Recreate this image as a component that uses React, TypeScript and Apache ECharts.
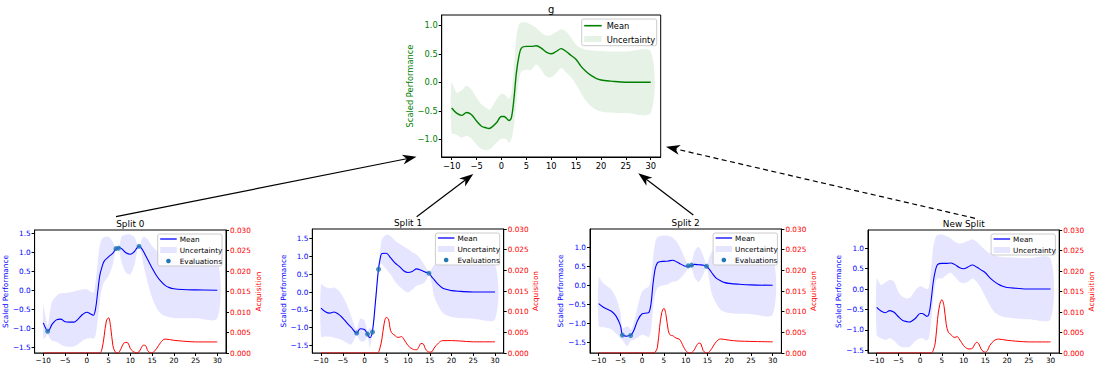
import React, { useEffect, useRef } from "react";
import * as echarts from "echarts";

// ---------- tick labels ----------
const xTicks = [-10, -5, 0, 5, 10, 15, 20, 25, 30];
const gYTicks = [-1, -0.5, 0, 0.5, 1];
const s01YTicks = [-1.5, -1, -0.5, 0, 0.5, 1, 1.5];
const s2nYTicks = [-1.5, -1, -0.5, 0, 0.5, 1];
const acqTicks = [0, 0.005, 0.01, 0.015, 0.02, 0.025, 0.03];

// ---------- g (parent) ----------
const gX = [-10, -9, -8, -7, -6, -5, -4, -3, -2.5, -2, -1, 0, 0.5, 1, 1.5, 2, 2.5, 3, 3.5, 4, 5, 6, 7, 8, 9, 10, 11, 12, 13, 14, 15, 16, 17, 18, 19, 20, 22, 25, 30];
const gMean = [-0.45, -0.54, -0.58, -0.53, -0.57, -0.68, -0.77, -0.8, -0.81, -0.79, -0.71, -0.6, -0.6, -0.63, -0.67, -0.62, -0.3, 0.16, 0.45, 0.6, 0.63, 0.63, 0.64, 0.6, 0.53, 0.5, 0.54, 0.59, 0.54, 0.47, 0.4, 0.28, 0.19, 0.12, 0.07, 0.04, 0.02, 0.0, 0.0];
const gUpper = [0.0, -0.18, -0.14, -0.06, -0.13, -0.27, -0.39, -0.45, -0.48, -0.45, -0.3, -0.2, -0.21, -0.24, -0.29, -0.19, 0.28, 0.8, 1.01, 1.05, 1.05, 1.01, 0.95, 0.87, 0.82, 0.83, 0.88, 0.93, 0.89, 0.78, 0.66, 0.6, 0.57, 0.56, 0.55, 0.55, 0.54, 0.54, 0.54];
const gLower = [-0.89, -0.92, -0.97, -0.94, -0.99, -1.09, -1.17, -1.19, -1.18, -1.15, -1.06, -0.99, -0.99, -1.0, -1.06, -1.0, -0.77, -0.36, 0.02, 0.19, 0.22, 0.22, 0.31, 0.22, 0.1, 0.09, 0.16, 0.25, 0.17, 0.09, -0.04, -0.19, -0.33, -0.42, -0.48, -0.51, -0.53, -0.54, -0.54];

// ---------- acquisition sample positions (shared) ----------
const acqX = [-10, 0, 2.5, 3, 3.5, 4, 4.5, 5, 5.5, 6, 6.5, 7, 7.5, 8, 8.5, 9, 9.5, 10, 10.5, 11, 11.5, 12, 12.5, 13, 13.5, 14, 14.5, 15, 15.5, 16, 17, 18, 20, 22, 25, 30];

// ---------- Split 0 ----------
const s0X = [-10, -9.5, -9, -8.5, -8, -7, -6, -5, -4, -3, -2, -1, 0, 1, 1.5, 2, 2.5, 3, 3.5, 4, 5, 6, 6.5, 7, 7.5, 8, 9, 10, 11, 11.5, 12, 12.5, 13, 14, 15, 16, 17, 18, 19, 20, 22, 25, 30];
const s0Mean = [-0.86, -0.99, -1.08, -1.02, -0.9, -0.78, -0.76, -0.83, -0.84, -0.84, -0.76, -0.64, -0.58, -0.63, -0.66, -0.5, -0.05, 0.4, 0.62, 0.77, 0.88, 0.98, 1.07, 1.11, 1.12, 1.1, 0.99, 0.95, 1.03, 1.11, 1.16, 1.12, 1.03, 0.81, 0.59, 0.39, 0.24, 0.13, 0.07, 0.04, 0.02, 0.01, 0.0];
const s0Upper = [-0.4, -0.68, -0.92, -0.59, -0.3, -0.15, -0.08, -0.07, -0.06, -0.03, 0.0, 0.02, 0.03, -0.04, -0.07, 0.2, 0.75, 1.2, 1.36, 1.4, 1.41, 1.27, 1.16, 1.14, 1.2, 1.41, 1.47, 1.47, 1.39, 1.24, 1.18, 1.28, 1.41, 1.34, 1.17, 1.05, 0.92, 0.84, 0.8, 0.78, 0.77, 0.76, 0.76];
const s0Lower = [-1.28, -1.24, -1.16, -1.27, -1.33, -1.36, -1.43, -1.48, -1.49, -1.48, -1.42, -1.33, -1.28, -1.26, -1.28, -1.2, -0.8, -0.3, 0.05, 0.22, 0.38, 0.68, 0.98, 1.07, 1.02, 0.73, 0.46, 0.42, 0.68, 0.98, 1.13, 0.99, 0.68, 0.2, -0.2, -0.46, -0.61, -0.68, -0.71, -0.73, -0.74, -0.74, -0.74];
const s0EvalX = [-9, 6.7, 7.3, 12.0];
const s0EvalY = [-1.08, 1.1, 1.11, 1.16];
const s0Acq = [0, 0, 0, 0, 0.001, 0.0042, 0.0078, 0.0086, 0.0062, 0.0018, 0.0003, 0, 0.0003, 0.0014, 0.0024, 0.0026, 0.0024, 0.0011, 0.0005, 0.0002, 0, 0.0003, 0.0012, 0.0019, 0.0018, 0.0006, 0.0001, 0, 0.0004, 0.001, 0.0026, 0.0034, 0.0031, 0.0029, 0.0027, 0.0027];

// ---------- Split 1 ----------
const s1X = [-10, -9, -8, -7, -6, -5, -4, -3, -1.8, -1, 0, 0.7, 1.2, 1.8, 2.5, 3.2, 3.7, 4, 5, 6, 7, 8, 9, 10, 11, 12, 13, 14, 14.8, 15.5, 16, 17, 18, 19, 20, 22, 25, 30];
const s1Mean = [-0.45, -0.55, -0.59, -0.56, -0.62, -0.73, -0.87, -1.0, -1.15, -1.03, -1.05, -1.18, -1.28, -1.12, -0.3, 0.63, 1.0, 1.08, 1.09, 0.96, 0.82, 0.72, 0.6, 0.55, 0.58, 0.65, 0.61, 0.56, 0.53, 0.42, 0.35, 0.21, 0.11, 0.07, 0.04, 0.02, 0.0, 0.0];
const s1Upper = [0.22, 0.14, 0.11, 0.13, 0.05, -0.12, -0.36, -0.7, -1.05, -0.75, -0.8, -1.1, -1.0, -1.06, -0.1, 0.7, 1.25, 1.48, 1.61, 1.57, 1.45, 1.36, 1.28, 1.21, 1.12, 1.05, 0.91, 0.72, 0.56, 0.67, 0.77, 0.82, 0.8, 0.78, 0.77, 0.76, 0.76, 0.76];
const s1Lower = [-1.25, -1.25, -1.25, -1.28, -1.31, -1.35, -1.43, -1.47, -1.22, -1.37, -1.38, -1.25, -1.55, -1.17, -0.5, 0.57, 0.78, 0.79, 0.64, 0.49, 0.3, 0.16, 0.05, -0.01, 0.07, 0.18, 0.21, 0.3, 0.47, 0.21, -0.12, -0.4, -0.59, -0.66, -0.7, -0.73, -0.75, -0.76];
const s1EvalX = [-1.8, 0.7, 1.85, 3.23, 14.8];
const s1EvalY = [-1.15, -1.18, -1.12, 0.64, 0.53];
const s1Acq = [0, 0, 0, 0, 0.001, 0.0034, 0.007, 0.0086, 0.0082, 0.0054, 0.0046, 0.0043, 0.0038, 0.0038, 0.004, 0.0034, 0.0026, 0.0018, 0.0013, 0.001, 0.0008, 0.0008, 0.0015, 0.0023, 0.0022, 0.001, 0.0004, 0.0002, 0.0003, 0.0012, 0.0024, 0.003, 0.003, 0.0029, 0.0027, 0.0027];

// ---------- Split 2 ----------
const s2X = [-10, -9, -8, -7, -6, -5, -4.6, -4, -3.5, -3, -2.6, -2, -1, 0, 1, 1.5, 2, 2.5, 3, 3.5, 4, 5, 6, 7, 8, 9, 10, 10.6, 11.3, 12, 13, 14, 14.8, 15.5, 16, 17, 18, 19, 20, 22, 25, 30];
const s2Mean = [-0.47, -0.56, -0.62, -0.68, -0.8, -1.05, -1.28, -1.32, -1.33, -1.31, -1.3, -1.2, -0.9, -0.74, -0.72, -0.71, -0.5, 0.06, 0.45, 0.6, 0.63, 0.64, 0.65, 0.67, 0.62, 0.56, 0.51, 0.51, 0.53, 0.56, 0.55, 0.54, 0.51, 0.42, 0.34, 0.2, 0.13, 0.08, 0.06, 0.04, 0.02, 0.01];
const s2Upper = [0.22, 0.07, -0.02, -0.12, -0.32, -0.7, -1.12, -1.1, -1.07, -1.1, -1.16, -1.0, -0.52, -0.15, -0.06, -0.02, 0.15, 0.75, 1.15, 1.28, 1.3, 1.32, 1.31, 1.26, 1.15, 0.93, 0.67, 0.56, 0.58, 0.89, 1.02, 0.8, 0.55, 0.76, 0.89, 0.9, 0.86, 0.82, 0.8, 0.78, 0.77, 0.76];
const s2Lower = [-1.07, -1.09, -1.11, -1.15, -1.26, -1.38, -1.42, -1.52, -1.59, -1.52, -1.44, -1.42, -1.36, -1.29, -1.33, -1.36, -1.2, -0.6, -0.22, -0.07, -0.02, 0.01, 0.04, 0.1, 0.12, 0.22, 0.36, 0.46, 0.48, 0.23, 0.1, 0.28, 0.46, 0.08, -0.21, -0.47, -0.63, -0.69, -0.72, -0.74, -0.75, -0.76];
const s2EvalX = [-4.57, -2.66, 10.57, 11.34, 14.78];
const s2EvalY = [-1.3, -1.31, 0.52, 0.54, 0.51];
const s2Acq = [0, 0, 0, 0.0002, 0.0014, 0.0062, 0.0098, 0.0108, 0.009, 0.0054, 0.0043, 0.0042, 0.0038, 0.0035, 0.0034, 0.0026, 0.0015, 0.0006, 0.0001, 0, 0.0002, 0.0008, 0.0018, 0.0024, 0.0022, 0.0006, 0.0001, 0, 0.0004, 0.0011, 0.0027, 0.0034, 0.0031, 0.0029, 0.0028, 0.0027];

// ---------- New Split (same mean as g, wider band) ----------
const nsX = gX;
const nsMean = gMean;
const nsUpper = [0.26, 0.1, 0.16, 0.22, 0.18, -0.07, -0.19, -0.23, -0.22, -0.17, -0.01, 0.07, 0.06, 0.02, 0.0, 0.04, 0.47, 1.04, 1.25, 1.33, 1.34, 1.3, 1.25, 1.16, 1.12, 1.14, 1.18, 1.22, 1.16, 1.06, 0.96, 0.88, 0.84, 0.8, 0.79, 0.78, 0.77, 0.76, 0.75];
const nsLower = [-1.13, -1.21, -1.25, -1.21, -1.27, -1.38, -1.43, -1.43, -1.42, -1.38, -1.27, -1.21, -1.21, -1.24, -1.27, -1.21, -0.84, -0.27, 0.12, 0.26, 0.26, 0.34, 0.4, 0.3, 0.18, 0.14, 0.18, 0.26, 0.18, 0.02, -0.19, -0.39, -0.56, -0.64, -0.68, -0.7, -0.72, -0.74, -0.74];
const nsAcq = [0, 0, 0, 0.0006, 0.0026, 0.0082, 0.0118, 0.013, 0.0114, 0.007, 0.005, 0.0046, 0.004, 0.0038, 0.004, 0.0034, 0.0026, 0.0018, 0.0013, 0.001, 0.001, 0.0011, 0.002, 0.0026, 0.0022, 0.001, 0.0004, 0.0002, 0.0006, 0.0018, 0.003, 0.0034, 0.0031, 0.0029, 0.0027, 0.0027];

// ---------- layout ----------
const FONT = "DejaVu Sans";
const SMOOTH = 0.35;

type Panel = {
  title: string; x: number[]; mean: number[]; upper: number[]; lower: number[];
  acq: number[] | null; evalX: number[] | null; evalY: number[] | null;
  left: number; top: number; width: number; height: number;
  yMin: number; yMax: number; yTicks: number[];
  color: string; fs: number; titleFs: number; lw: number; big: boolean;
};

const panels: Panel[] = [
  { title: "g", x: gX, mean: gMean, upper: gUpper, lower: gLower, acq: null, evalX: null, evalY: null,
    left: 441.7, top: 15, width: 219, height: 142, yMin: -1.31, yMax: 1.18, yTicks: gYTicks,
    color: "#008000", fs: 8.3, titleFs: 10, lw: 1.4, big: true },
  { title: "Split 0", x: s0X, mean: s0Mean, upper: s0Upper, lower: s0Lower, acq: s0Acq, evalX: s0EvalX, evalY: s0EvalY,
    left: 34.6, top: 230, width: 191.4, height: 123, yMin: -1.654, yMax: 1.59, yTicks: s01YTicks,
    color: "#0000ff", fs: 7.3, titleFs: 8.9, lw: 1.1, big: false },
  { title: "Split 1", x: s1X, mean: s1Mean, upper: s1Upper, lower: s1Lower, acq: s1Acq, evalX: s1EvalX, evalY: s1EvalY,
    left: 312.3, top: 229, width: 191.4, height: 124, yMin: -1.71, yMax: 1.77, yTicks: s01YTicks,
    color: "#0000ff", fs: 7.3, titleFs: 8.9, lw: 1.1, big: false },
  { title: "Split 2", x: s2X, mean: s2Mean, upper: s2Upper, lower: s2Lower, acq: s2Acq, evalX: s2EvalX, evalY: s2EvalY,
    left: 590, top: 229, width: 191.4, height: 124, yMin: -1.77, yMax: 1.49, yTicks: s2nYTicks,
    color: "#0000ff", fs: 7.3, titleFs: 8.9, lw: 1.1, big: false },
  { title: "New Split", x: nsX, mean: nsMean, upper: nsUpper, lower: nsLower, acq: nsAcq, evalX: null, evalY: null,
    left: 868, top: 230, width: 191.4, height: 123, yMin: -1.57, yMax: 1.45, yTicks: s2nYTicks,
    color: "#0000ff", fs: 7.3, titleFs: 8.9, lw: 1.1, big: false },
];

// arrows: [tailX, tailY, tipX, tipY, dashed]
const arrows: [number, number, number, number, boolean][] = [
  [116, 216.7, 416.5, 156.8, false],
  [416.7, 216.7, 473.3, 174, false],
  [693.3, 215, 638.3, 173.3, false],
  [975, 218.3, 666, 146.7, true],
];

const minus = (s: string) => s.replace("-", "\u2212");
const fmt0 = (v: number) => minus(String(Math.round(v)));
const fmt1 = (v: number) => minus(v.toFixed(1));
const fmt3 = (v: number) => v.toFixed(3);
const pairs = (xs: number[], ys: number[]) => xs.map((x, i) => [x, ys[i]]);
const rgba = (hex: string, a: number) => {
  const n = parseInt(hex.slice(1), 16);
  return `rgba(${(n >> 16) & 255},${(n >> 8) & 255},${n & 255},${a})`;
};

function textEl(x: number, y: number, text: string, fs: number, fill: string, align: string) {
  return {
    type: "text", x, y, z: 20,
    style: {
      text, fill, fontSize: fs, fontFamily: FONT,
      textAlign: align, align, textVerticalAlign: "middle", verticalAlign: "middle",
    },
  };
}

function legendEls(p: Panel) {
  const els: any[] = [];
  const items = p.evalX ? ["Mean", "Uncertainty", "Evaluations"] : ["Mean", "Uncertainty"];
  const w = p.big ? 75 : 64.3;
  const first = p.big ? 6.7 : 5;
  const row = p.big ? 13.3 : 11;
  const h = first * 2 + row * (items.length - 1);
  const x0 = p.left + p.width - 4 - w;
  const y0 = p.top + 4;
  const sx0 = x0 + 2.5;
  const sx1 = x0 + (p.big ? 20 : 19);
  const tx = x0 + (p.big ? 25 : 22);
  els.push({ type: "rect", z: 19, shape: { x: x0, y: y0, width: w, height: h, r: 2 },
    style: { fill: "rgba(255,255,255,0.8)", stroke: "#cccccc", lineWidth: 1 } });
  items.forEach((name, k) => {
    const cy = y0 + first + row * k;
    if (name === "Mean") {
      els.push({ type: "line", z: 20, shape: { x1: sx0, y1: cy, x2: sx1, y2: cy },
        style: { stroke: p.color, lineWidth: p.lw + 0.2 } });
    } else if (name === "Uncertainty") {
      els.push({ type: "rect", z: 20, shape: { x: sx0, y: cy - 3, width: sx1 - sx0, height: 6 },
        style: { fill: rgba(p.color, 0.1) } });
    } else {
      els.push({ type: "circle", z: 20, shape: { cx: (sx0 + sx1) / 2, cy, r: 2.3 },
        style: { fill: "#1f77b4" } });
    }
    els.push(textEl(tx, cy + 0.5, name, p.fs, "#000", "left"));
  });
  return els;
}

function arrowEls(a: [number, number, number, number, boolean]) {
  const [tx, ty, hx, hy, dashed] = a;
  const dx = hx - tx, dy = hy - ty;
  const len = Math.hypot(dx, dy);
  const ux = dx / len, uy = dy / len;
  const px = -uy, py = ux;
  const L = 14, W = 5, N = 10;
  const nx = hx - ux * N, ny = hy - uy * N;
  return [
    { type: "line", z: 20, shape: { x1: tx, y1: ty, x2: nx, y2: ny },
      style: { stroke: "#000", lineWidth: 1.2, lineDash: dashed ? [5, 3.5] : null } },
    { type: "polygon", z: 20,
      shape: { points: [[hx, hy], [hx - ux * L + px * W, hy - uy * L + py * W], [nx, ny], [hx - ux * L - px * W, hy - uy * L - py * W]] },
      style: { fill: "#000" } },
  ];
}

function buildOption() {
  const grid: any[] = [], xAxis: any[] = [], yAxis: any[] = [], series: any[] = [], graphic: any[] = [];
  panels.forEach((p, i) => {
    const bottom = !!p.acq;
    grid.push({ left: p.left, top: p.top, width: p.width, height: p.height, show: true,
      borderColor: "#000", borderWidth: 1, backgroundColor: "transparent" });
    xAxis.push({
      type: "value", gridIndex: i, min: -12, max: 32, z: 3,
      axisLine: { show: true, onZero: false, lineStyle: { color: "#000", width: 1, opacity: bottom ? 0.5 : 1 } },
      axisTick: { show: true, length: 3, customValues: xTicks, lineStyle: { color: "#000", width: 1 } },
      axisLabel: { customValues: xTicks, formatter: fmt0, color: "#000", fontSize: p.fs, fontFamily: FONT, margin: p.big ? 5 : 4 },
      splitLine: { show: false },
    });
    const leftIdx = yAxis.length;
    yAxis.push({
      type: "value", gridIndex: i, position: "left", min: p.yMin, max: p.yMax,
      axisLine: { show: true, onZero: false, lineStyle: { color: "#000", width: 1 } },
      axisTick: { show: true, length: 3, customValues: p.yTicks, lineStyle: { color: "#000", width: 1 } },
      axisLabel: { customValues: p.yTicks, formatter: fmt1, color: p.color, fontSize: p.fs, fontFamily: FONT, margin: 4 },
      splitLine: { show: false },
      name: "Scaled Performance", nameLocation: "middle", nameRotate: 90, nameGap: p.big ? 27 : 23.5,
      nameTextStyle: { color: p.color, fontSize: p.fs, fontFamily: FONT },
    });
    let rightIdx = -1;
    if (bottom) {
      rightIdx = yAxis.length;
      yAxis.push({
        type: "value", gridIndex: i, position: "right", min: 0, max: 0.03, interval: 0.005,
        axisLine: { show: true, onZero: false, lineStyle: { color: "#000", width: 1 } },
        axisTick: { show: true, length: 3, customValues: acqTicks, lineStyle: { color: "#000", width: 1 } },
        axisLabel: { customValues: acqTicks, formatter: fmt3, color: "#ff0000", fontSize: p.fs, fontFamily: FONT, margin: 4 },
        splitLine: { show: false },
        name: "Acquisition", nameLocation: "middle", nameRotate: 90, nameGap: 26,
        nameTextStyle: { color: "#ff0000", fontSize: p.fs, fontFamily: FONT },
      });
    }
    const fill = rgba(p.color, 0.1);
    series.push({
      type: "custom", name: "Uncertainty", xAxisIndex: i, yAxisIndex: leftIdx,
      data: p.x.map((x, k) => [x, p.lower[k], p.upper[k]]),
      encode: { x: 0, y: [1, 2] }, silent: true, z: 1,
      renderItem: (params: any, api: any) => {
        if (params.dataIndex !== 0) return null;
        const up = p.x.map((x, k) => api.coord([x, p.upper[k]]));
        const lo = p.x.map((x, k) => api.coord([x, p.lower[k]])).reverse();
        return { type: "polygon", shape: { points: up.concat(lo), smooth: 0.3 }, style: { fill, stroke: null } };
      },
    });
    series.push({
      type: "line", name: "Mean", xAxisIndex: i, yAxisIndex: leftIdx,
      data: pairs(p.x, p.mean), symbol: "none", smooth: SMOOTH,
      lineStyle: { color: p.color, width: p.lw }, z: 2,
    });
    if (p.evalX && p.evalY) {
      series.push({
        type: "scatter", name: "Evaluations", xAxisIndex: i, yAxisIndex: leftIdx,
        data: pairs(p.evalX, p.evalY), symbolSize: 5, itemStyle: { color: "#1f77b4" }, z: 4,
      });
    }
    if (p.acq) {
      series.push({
        type: "line", name: "Acquisition", xAxisIndex: i, yAxisIndex: rightIdx,
        data: pairs(acqX, p.acq), symbol: "none", smooth: SMOOTH,
        lineStyle: { color: "#ff0000", width: 1 }, z: 2,
      });
    }
    graphic.push(textEl(p.left + p.width / 2, p.top - 6, p.title, p.titleFs, "#000", "center"));
    graphic.push(...legendEls(p));
  });
  arrows.forEach((a) => graphic.push(...arrowEls(a)));
  return { animation: false, backgroundColor: "#ffffff", grid, xAxis, yAxis, series, graphic };
}

export default function App() {
  const ref = useRef<HTMLDivElement>(null);
  useEffect(() => {
    document.body.style.margin = "0";
    if (!ref.current) return;
    const chart = echarts.init(ref.current, undefined, { renderer: "svg" });
    chart.setOption(buildOption() as any);
    return () => chart.dispose();
  }, []);
  return <div ref={ref} style={{ position: "absolute", left: 0, top: 0, width: 1096, height: 369 }} />;
}
